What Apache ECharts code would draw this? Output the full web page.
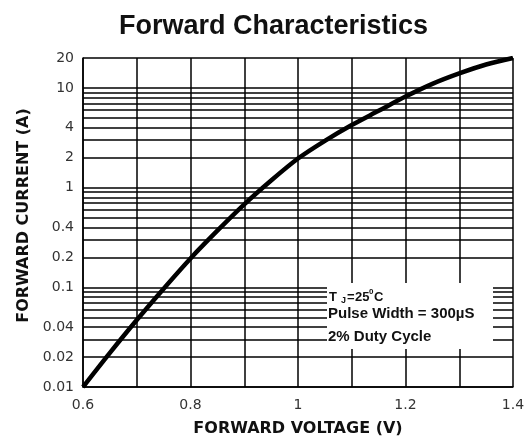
<!DOCTYPE html>
<html>
<head>
<meta charset="utf-8">
<script src="https://cdn.jsdelivr.net/npm/echarts@6/dist/echarts.min.js"></script>
<style>
html,body{margin:0;padding:0;background:#fff;}
#chart{width:529px;height:439px;}
</style>
</head>
<body>
<div id="chart"></div>
<script>
// Data
const voltage = [0.6, 0.65, 0.7, 0.75, 0.8, 0.85, 0.9, 0.95, 1.0, 1.05, 1.1, 1.15, 1.2, 1.25, 1.3, 1.35, 1.4];
const current = [0.01, 0.022, 0.047, 0.097, 0.195, 0.37, 0.68, 1.18, 1.96, 2.95, 4.25, 5.9, 8.2, 11, 14, 17.2, 20];
const xTickLabels = ['0.6', '0.8', '1', '1.2', '1.4'];
const yTickLabels = [0.01, 0.02, 0.04, 0.1, 0.2, 0.4, 1, 2, 4, 10, 20];
const yGridValues = [0.01, 0.02, 0.03, 0.04, 0.05, 0.06, 0.07, 0.08, 0.09,
  0.1, 0.2, 0.3, 0.4, 0.5, 0.6, 0.7, 0.8, 0.9,
  1, 2, 3, 4, 5, 6, 7, 8, 9, 10, 20];
const titleText = 'Forward Characteristics';
const xTitle = 'FORWARD VOLTAGE (V)';
const yTitle = 'FORWARD CURRENT (A)';

const chart = echarts.init(document.getElementById('chart'), null, {renderer: 'canvas'});
const FONT = 'Liberation Sans, Arial, sans-serif';
const WIDE = 'DejaVu Sans, sans-serif';

const option = {
  animation: false,
  backgroundColor: '#fff',
  title: {
    text: titleText,
    left: 114,
    top: 8,
    textStyle: {fontFamily: FONT, fontSize: 27, fontWeight: 'bold', color: '#111'}
  },
  grid: {left: 83, right: 16, top: 58, bottom: 52, containLabel: false, outerBoundsMode: 'none'},
  xAxis: {
    type: 'value',
    min: 0.6, max: 1.4, interval: 0.1,
    name: xTitle,
    nameLocation: 'middle',
    nameGap: 34,
    nameTextStyle: {fontFamily: WIDE, fontSize: 16, fontWeight: 'bold', color: '#111'},
    axisLine: {show: true, onZero: false, lineStyle: {color: '#000', width: 1.5}},
    axisTick: {show: false},
    axisLabel: {
      margin: 11,
      fontFamily: WIDE, fontSize: 14, color: '#333',
      formatter: function (v) {
        const s = String(Math.round(v * 10) / 10);
        return xTickLabels.indexOf(s) >= 0 ? s : '';
      }
    },
    splitLine: {show: true, lineStyle: {color: '#000', width: 1.5}}
  },
  yAxis: {
    type: 'log', logBase: 10,
    min: 0.01, max: 20,
    name: yTitle,
    nameLocation: 'middle',
    nameGap: 51,
    nameTextStyle: {fontFamily: WIDE, fontSize: 16, fontWeight: 'bold', color: '#111', padding: [0, 0, 0, 14]},
    axisLine: {show: true, onZero: false, lineStyle: {color: '#000', width: 1.5}},
    axisTick: {show: false},
    axisLabel: {show: false},
    splitLine: {show: false}
  },
  series: [
    {
      type: 'line',
      data: voltage.map((v, i) => [v, current[i]]),
      smooth: 0.3,
      symbol: 'none',
      lineStyle: {color: '#000', width: 4.5},
      z: 5,
      markLine: {
        silent: true,
        symbol: ['none', 'none'],
        animation: false,
        lineStyle: {color: '#000', width: 1.5, type: 'solid'},
        label: {
          show: true,
          position: 'start',
          distance: 9,
          fontFamily: WIDE, fontSize: 14, color: '#333',
          formatter: function (p) {
            const v = p.value;
            for (const t of yTickLabels) {
              if (Math.abs(t - v) < 1e-9) return String(t);
            }
            return '';
          }
        },
        data: yGridValues.map(v => ({yAxis: v}))
      }
    }
  ],
  graphic: [
    {
      type: 'group',
      z: 100,
      children: [
        {type: 'rect', shape: {x: 327, y: 283, width: 166, height: 66}, style: {fill: '#fff'}, z: 100},
        {type: 'text', x: 329, y: 297, z: 101, style: {text: 'T', font: 'bold 13px ' + FONT, fill: '#111', verticalAlign: 'middle'}},
        {type: 'text', x: 341, y: 301, z: 101, style: {text: 'J', font: 'bold 9px ' + FONT, fill: '#111', verticalAlign: 'middle'}},
        {type: 'text', x: 347, y: 297, z: 101, style: {text: '=', font: 'bold 13px ' + FONT, fill: '#111', verticalAlign: 'middle'}},
        {type: 'text', x: 355, y: 297, z: 101, style: {text: '25', font: 'bold 13px ' + FONT, fill: '#111', verticalAlign: 'middle'}},
        {type: 'text', x: 369, y: 292, z: 101, style: {text: '0', font: 'bold 8px ' + FONT, fill: '#111', verticalAlign: 'middle'}},
        {type: 'text', x: 374, y: 297, z: 101, style: {text: 'C', font: 'bold 13px ' + FONT, fill: '#111', verticalAlign: 'middle'}},
        {type: 'text', x: 328, y: 314, z: 101, style: {text: 'Pulse Width = 300µS', font: 'bold 15px ' + FONT, fill: '#111', verticalAlign: 'middle'}},
        {type: 'text', x: 328, y: 337, z: 101, style: {text: '2% Duty Cycle', font: 'bold 15px ' + FONT, fill: '#111', verticalAlign: 'middle'}}
      ]
    }
  ]
};
chart.setOption(option);
</script>
</body>
</html>
